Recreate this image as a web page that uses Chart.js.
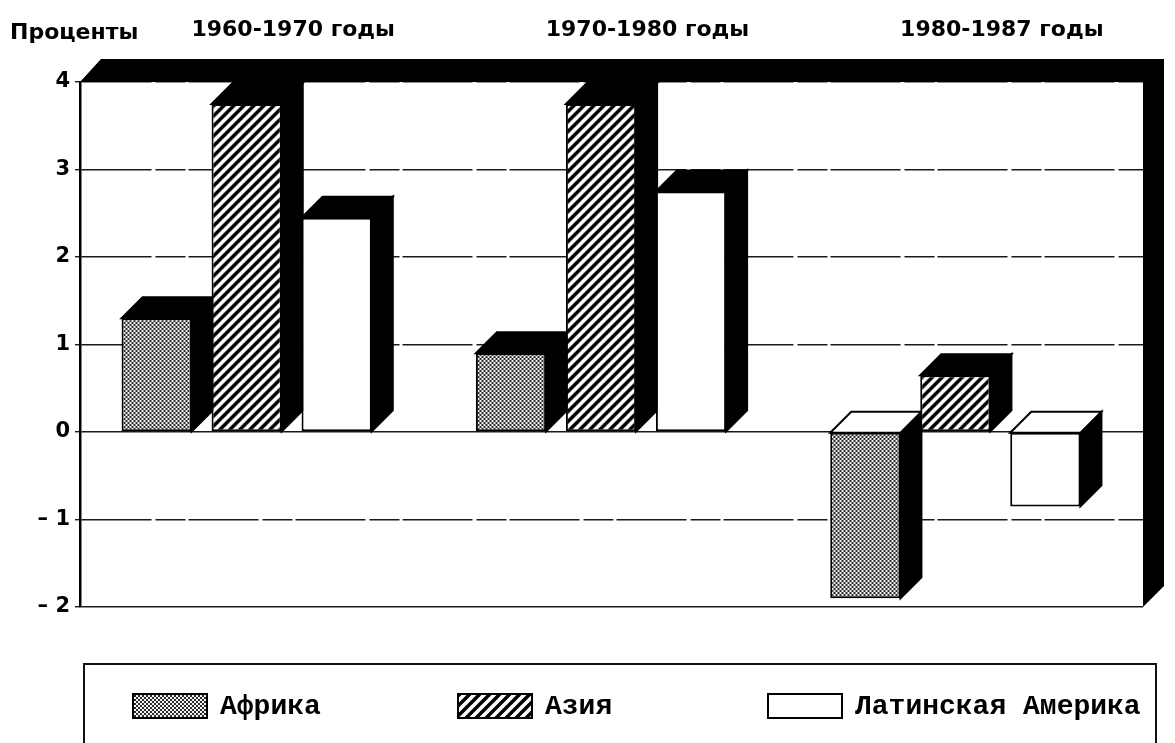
<!DOCTYPE html>
<html>
<head>
<meta charset="utf-8">
<script src="https://cdn.jsdelivr.net/npm/chart.js@4.4.1/dist/chart.umd.min.js"></script>
<style>
  body { margin: 0; background: #fff; }
  #wrap { position: relative; width: 1175px; height: 743px; overflow: hidden; }
  #ylabel { position: absolute; left: 10px; top: 19px; font: bold 22px "DejaVu Sans", sans-serif; color: #000; }
  #legend { position: absolute; left: 83px; top: 663px; width: 1070px; height: 120px; border: 2px solid #111; }
  .item { position: absolute; top: 26px; height: 30px; display: flex; align-items: center; }
  .item canvas { border: 2px solid #000; margin-right: 12px; }
  .item span { font: bold 28px "Liberation Mono", monospace; color: #000; }
</style>
</head>
<body>
<div id="wrap">
  <canvas id="chart" width="1175" height="743"></canvas>
  <div id="ylabel">Проценты</div>
  <div id="legend"></div>
</div>
<script>
const periods = ['1960-1970 годы', '1970-1980 годы', '1980-1987 годы']
const seriesNames = ['Африка', 'Азия', 'Латинская Америка']
const africa = [1.3, 0.9, -1.9]
const asia = [3.75, 3.75, 0.65]
const latinAmerica = [2.45, 2.75, -0.85]
const yTicks = [-2, -1, 0, 1, 2, 3, 4]

const DEPTH = 21

// fills for the three series
const dotPattern = (ctx) => {
  const c = document.createElement('canvas')
  c.width = 4; c.height = 4
  const g = c.getContext('2d')
  g.fillStyle = '#f2f2f2'; g.fillRect(0, 0, 4, 4)
  g.fillStyle = '#2a2a2a'
  g.fillRect(0, 0, 2, 2); g.fillRect(2, 2, 2, 2)
  return ctx.createPattern(c, 'repeat')
}
const hatchPattern = (ctx) => {
  const s = 10
  const c = document.createElement('canvas')
  c.width = s; c.height = s
  const g = c.getContext('2d')
  g.fillStyle = '#fff'; g.fillRect(0, 0, s, s)
  g.strokeStyle = '#000'; g.lineWidth = 3.5
  g.beginPath()
  g.moveTo(-1, s + 1); g.lineTo(s + 1, -1)
  g.moveTo(-1, 1); g.lineTo(1, -1)
  g.moveTo(s - 1, s + 1); g.lineTo(s + 1, s - 1)
  g.stroke()
  return ctx.createPattern(c, 'repeat')
}
const whiteFill = () => '#fff'
const fills = [dotPattern, hatchPattern, whiteFill]

const ctx = document.getElementById('chart').getContext('2d')

// black box behind the plot + 3d sides of the bars
const depthPlugin = {
  id: 'depth',
  beforeDatasetsDraw(chart) {
    const {ctx, chartArea: a} = chart
    const d = DEPTH
    ctx.save()
    ctx.fillStyle = '#000'
    ctx.beginPath()
    ctx.moveTo(a.left, a.top)
    ctx.lineTo(a.left + d, a.top - d - 2)
    ctx.lineTo(a.right + d, a.top - d - 2)
    ctx.lineTo(a.right + d, a.bottom - d)
    ctx.lineTo(a.right, a.bottom)
    ctx.lineTo(a.right, a.top)
    ctx.closePath()
    ctx.fill()
    ctx.restore()

    ctx.save()
    ctx.translate(-d / 2, 0)
    chart.data.datasets.forEach((ds, i) => {
      chart.getDatasetMeta(i).data.forEach((bar, j) => {
        const w = bar.width
        const l = bar.x - w / 2, r = bar.x + w / 2
        const t = Math.min(bar.y, bar.base), b = Math.max(bar.y, bar.base)
        ctx.lineWidth = 2
        ctx.strokeStyle = '#000'
        // side
        ctx.fillStyle = '#000'
        ctx.beginPath()
        ctx.moveTo(r, t); ctx.lineTo(r + d, t - d); ctx.lineTo(r + d, b - d); ctx.lineTo(r, b)
        ctx.closePath(); ctx.fill(); ctx.stroke()
        // top face
        ctx.fillStyle = ds.data[j] >= 0 ? '#000' : '#fff'
        ctx.beginPath()
        ctx.moveTo(l, t); ctx.lineTo(l + d, t - d); ctx.lineTo(r + d, t - d); ctx.lineTo(r, t)
        ctx.closePath(); ctx.fill(); ctx.stroke()
      })
    })
  },
  afterDatasetsDraw(chart) {
    chart.ctx.restore()
  }
}

const seriesData = [africa, asia, latinAmerica]

new Chart(ctx, {
  type: 'bar',
  data: {
    labels: periods,
    datasets: seriesNames.map((name, i) => ({
      label: name,
      data: seriesData[i],
      backgroundColor: fills[i](ctx),
      borderColor: '#000',
      borderWidth: 2,
      borderSkipped: false,
      categoryPercentage: 0.762,
      barPercentage: 0.78
    }))
  },
  options: {
    responsive: false,
    animation: false,
    devicePixelRatio: 1,
    layout: { padding: { top: 4, right: 32, bottom: 136, left: 0 } },
    plugins: { legend: { display: false }, tooltip: { enabled: false } },
    scales: {
      x: {
        position: 'top',
        grid: { display: false },
        border: { display: false },
        afterFit: (axis) => { axis.height = 78 },
        ticks: {
          color: '#000',
          font: { family: 'DejaVu Sans', weight: 'bold', size: 22 },
          padding: 31,
          labelOffset: 36,
          maxRotation: 0,
          autoSkip: false
        }
      },
      y: {
        min: yTicks[0],
        max: yTicks[yTicks.length - 1],
        afterBuildTicks: (axis) => { axis.ticks = yTicks.map(v => ({ value: v })) },
        afterFit: (axis) => { axis.width = 80 },
        grid: { color: '#1a1a1a', lineWidth: 1.4, tickLength: 5 },
        border: {
          display: true, color: '#000', width: 2.5,
          dash: (c) => (c.tick && (c.tick.value === 0 || c.tick.value === -2)) ? [] : [70, 4, 30, 3]
        },
        ticks: {
          color: '#000',
          font: { family: 'DejaVu Sans', weight: 'bold', size: 21 },
          padding: 5,
          callback: (v) => v < 0 ? '– ' + Math.abs(v) : String(v)
        }
      }
    }
  },
  plugins: [depthPlugin]
})

// legend
const legendLeft = [47, 372, 682]
const legend = document.getElementById('legend')
seriesNames.forEach((name, i) => {
  const item = document.createElement('div')
  item.className = 'item'
  item.style.left = legendLeft[i] + 'px'
  const sw = document.createElement('canvas')
  sw.width = 72; sw.height = 22
  const sctx = sw.getContext('2d')
  sctx.fillStyle = fills[i](sctx)
  sctx.fillRect(0, 0, 72, 22)
  const label = document.createElement('span')
  label.textContent = name
  item.appendChild(sw)
  item.appendChild(label)
  legend.appendChild(item)
})
</script>
</body>
</html>
